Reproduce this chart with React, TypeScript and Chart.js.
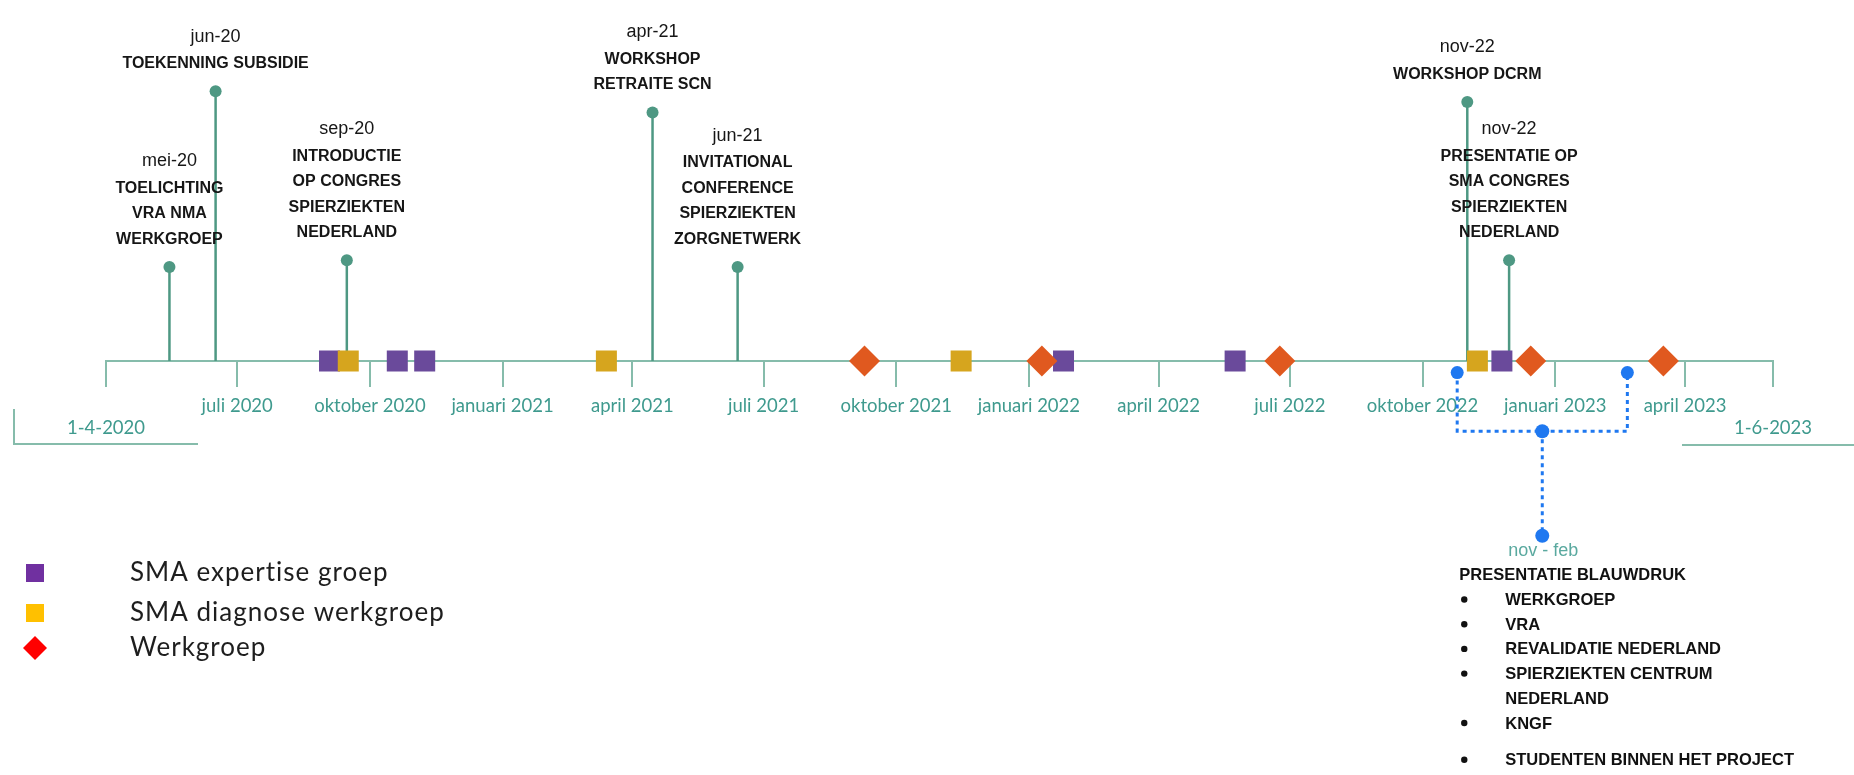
import React, { useEffect, useRef } from 'react';
import { Chart, registerables } from 'chart.js';

Chart.register(...registerables);

// ---------- data ----------
const startDate = '2020-04-01';
const endDate = '2023-06-01';

const tickDates = [
  '2020-04-01', '2020-07-01', '2020-10-01', '2021-01-01', '2021-04-01', '2021-07-01', '2021-10-01',
  '2022-01-01', '2022-04-01', '2022-07-01', '2022-10-01', '2023-01-01', '2023-04-01', '2023-06-01',
];
const tickLabels = [
  '1-4-2020', 'juli 2020', 'oktober 2020', 'januari 2021', 'april 2021', 'juli 2021', 'oktober 2021',
  'januari 2022', 'april 2022', 'juli 2022', 'oktober 2022', 'januari 2023', 'april 2023', '1-6-2023',
];

const eventDates = ['2020-05-15', '2020-06-16', '2020-09-15', '2021-04-15', '2021-06-13', '2022-11-01', '2022-11-30'];
const eventHeights = [98, 281, 105, 259, 98, 270, 105];
const eventDateLabels = ['mei-20', 'jun-20', 'sep-20', 'apr-21', 'jun-21', 'nov-22', 'nov-22'];
const eventTexts = [
  ['TOELICHTING', 'VRA NMA', 'WERKGROEP'],
  ['TOEKENNING SUBSIDIE'],
  ['INTRODUCTIE', 'OP CONGRES', 'SPIERZIEKTEN', 'NEDERLAND'],
  ['WORKSHOP', 'RETRAITE SCN'],
  ['INVITATIONAL', 'CONFERENCE', 'SPIERZIEKTEN', 'ZORGNETWERK'],
  ['WORKSHOP DCRM'],
  ['PRESENTATIE OP', 'SMA CONGRES', 'SPIERZIEKTEN', 'NEDERLAND'],
];

const expertiseDates = ['2020-09-03', '2020-10-20', '2020-11-08', '2022-01-25', '2022-05-24', '2022-11-25'];
const diagnoseDates = ['2020-09-16', '2021-03-14', '2021-11-15', '2022-11-08'];
const werkgroepDates = ['2021-09-09', '2022-01-10', '2022-06-24', '2022-12-15', '2023-03-17'];

const blueprintRange = ['2022-10-25', '2023-02-20'];
const blueprintLevels = [-12, -73, -182]; // end dots, bracket bar, bottom dot
const blueprintPeriod = 'nov - feb';
const blueprintTitle = 'PRESENTATIE BLAUWDRUK';
const blueprintItems = [
  ['WERKGROEP'],
  ['VRA'],
  ['REVALIDATIE NEDERLAND'],
  ['SPIERZIEKTEN CENTRUM', 'NEDERLAND'],
  ['KNGF'],
  ['STUDENTEN BINNEN HET PROJECT'],
];

const legendLabels = ['SMA expertise groep', 'SMA diagnose werkgroep', 'Werkgroep'];

// ---------- helpers ----------
const parseUTC = (s: string) => {
  const [y, m, d] = s.split('-').map(Number);
  return Date.UTC(y, m - 1, d);
};
const dayOf = (s: string) => (parseUTC(s) - parseUTC(startDate)) / 86400000;

const AXIS_COLOR = '#86bcab';
const STEM_COLOR = '#4e9883';
const TICK_TEXT = '#3f9a8e';
const PURPLE = '#6a4a9b';
const YELLOW = '#d6a51e';
const ORANGE = '#e0591f';
const BLUE = '#1f78f0';
const LEGEND_COLORS = ['#7030a0', '#ffc000', '#ff0000'];

const textPlugin = {
  id: 'timelineText',
  afterDatasetsDraw(chart: any) {
    const ctx: CanvasRenderingContext2D = chart.ctx;
    const xs = chart.scales.x;
    const ys = chart.scales.y;
    ctx.save();
    ctx.textAlign = 'center';
    ctx.textBaseline = 'middle';

    // event labels
    eventDates.forEach((d, i) => {
      const x = xs.getPixelForValue(dayOf(d));
      const top = ys.getPixelForValue(eventHeights[i]);
      const lines = eventTexts[i];
      ctx.fillStyle = '#161616';
      ctx.font = 'bold 16px "Liberation Sans", Arial, sans-serif';
      let y = top - 27.5;
      for (let k = lines.length - 1; k >= 0; k--) {
        ctx.fillText(lines[k], x, y);
        y -= 25.5;
      }
      ctx.font = '18px "Liberation Sans", Arial, sans-serif';
      ctx.fillText(eventDateLabels[i], x, y - 1.5);
    });

    // start / end brackets
    const axisY = ys.getPixelForValue(0);
    const x0 = xs.getPixelForValue(dayOf(startDate));
    const x1 = xs.getPixelForValue(dayOf(endDate));
    ctx.strokeStyle = AXIS_COLOR;
    ctx.lineWidth = 2;
    ctx.beginPath();
    ctx.moveTo(x0 - 92, axisY + 48);
    ctx.lineTo(x0 - 92, axisY + 83);
    ctx.lineTo(x0 + 92, axisY + 83);
    ctx.stroke();
    ctx.beginPath();
    ctx.moveTo(x1 - 91, axisY + 84);
    ctx.lineTo(chart.width, axisY + 84);
    ctx.stroke();

    // blueprint text block
    const [bs, be] = blueprintRange.map(dayOf);
    const bx = xs.getPixelForValue((bs + be) / 2);
    const by = ys.getPixelForValue(blueprintLevels[2]);
    ctx.fillStyle = '#5aa99f';
    ctx.font = '18px "Liberation Sans", Arial, sans-serif';
    ctx.fillText(blueprintPeriod, bx + 1, by + 15);
    ctx.textAlign = 'left';
    ctx.fillStyle = '#111';
    ctx.font = 'bold 16.5px "Liberation Sans", Arial, sans-serif';
    let ty = by + 40;
    ctx.fillText(blueprintTitle, bx - 83, ty);
    blueprintItems.forEach((item, i) => {
      ty += 24.7 + (i === blueprintItems.length - 1 ? 12 : 0);
      ctx.beginPath();
      ctx.arc(bx - 78, ty - 1, 3.2, 0, Math.PI * 2);
      ctx.fill();
      item.forEach((line, k) => {
        if (k > 0) ty += 24.7;
        ctx.fillText(line, bx - 37, ty);
      });
    });

    // legend
    const legendY = [573, 613, 648];
    ctx.font = '26px Lato, "Open Sans", sans-serif';
    (ctx as any).letterSpacing = '1px';
    legendLabels.forEach((lab, i) => {
      const y = legendY[i];
      ctx.fillStyle = LEGEND_COLORS[i];
      if (i < 2) {
        ctx.fillRect(35 - 9, y - 9, 18, 18);
      } else {
        ctx.beginPath();
        ctx.moveTo(35, y - 12);
        ctx.lineTo(47, y);
        ctx.lineTo(35, y + 12);
        ctx.lineTo(23, y);
        ctx.closePath();
        ctx.fill();
      }
      ctx.fillStyle = '#1e1e1e';
      ctx.textAlign = 'left';
      ctx.fillText(lab, 130, y);
    });
    (ctx as any).letterSpacing = '0px';
    ctx.restore();
  },
};

export default function App() {
  const ref = useRef<HTMLCanvasElement | null>(null);

  useEffect(() => {
    if (!ref.current) return;
    const tickDays = tickDates.map(dayOf);
    const stemData = eventDates.flatMap((d, i) => [
      { x: dayOf(d), y: 0 },
      { x: dayOf(d), y: eventHeights[i] },
      { x: dayOf(d), y: null },
    ]);
    const [bs, be] = blueprintRange.map(dayOf);
    const bm = (bs + be) / 2;
    const [dotLv, barLv, endLv] = blueprintLevels;
    const bracketData = [
      { x: bs, y: dotLv },
      { x: bs, y: barLv },
      { x: be, y: barLv },
      { x: be, y: dotLv },
      { x: be, y: null },
      { x: bm, y: barLv },
      { x: bm, y: endLv },
    ];
    const bracketRadius = [6.5, 0, 0, 6.5, 0, 7, 7];

    const chart = new Chart(ref.current, {
      type: 'scatter',
      data: {
        datasets: [
          {
            label: legendLabels[2],
            data: werkgroepDates.map((d) => ({ x: dayOf(d), y: 0 })),
            pointStyle: 'rectRot',
            pointRadius: 15.5,
            backgroundColor: ORANGE,
            borderWidth: 0,
          },
          {
            label: legendLabels[1],
            data: diagnoseDates.map((d) => ({ x: dayOf(d), y: 0 })),
            pointStyle: 'rect',
            pointRadius: 14.85,
            backgroundColor: YELLOW,
            borderWidth: 0,
          },
          {
            label: legendLabels[0],
            data: expertiseDates.map((d) => ({ x: dayOf(d), y: 0 })),
            pointStyle: 'rect',
            pointRadius: 14.85,
            backgroundColor: PURPLE,
            borderWidth: 0,
          },
          {
            label: 'events',
            data: stemData as any,
            showLine: true,
            spanGaps: false,
            borderColor: STEM_COLOR,
            borderWidth: 2.5,
            backgroundColor: STEM_COLOR,
            pointBorderWidth: 0,
            pointRadius: (c: any) => (c.raw && c.raw.y > 0 ? 6 : 0),
          },
          {
            label: 'blauwdruk',
            data: bracketData as any,
            showLine: true,
            spanGaps: false,
            borderColor: BLUE,
            borderWidth: 3,
            borderDash: [4, 4],
            backgroundColor: BLUE,
            pointBorderWidth: 0,
            pointRadius: (c: any) => bracketRadius[c.dataIndex],
          },
        ],
      },
      options: {
        animation: false,
        responsive: true,
        maintainAspectRatio: false,
        events: [],
        layout: { padding: { left: 106, right: 81, top: 0, bottom: 0 } },
        plugins: { legend: { display: false }, tooltip: { enabled: false } },
        scales: {
          x: {
            type: 'linear',
            min: 0,
            max: dayOf(endDate),
            position: { y: 0 } as any,
            afterBuildTicks: (s: any) => {
              s.ticks = tickDays.map((v) => ({ value: v }));
            },
            ticks: {
              autoSkip: false,
              maxRotation: 0,
              minRotation: 0,
              padding: 9,
              color: TICK_TEXT,
              font: { family: 'Lato, "Open Sans", sans-serif', size: 18.5, lineHeight: '22px' as any },
              callback: (_v: any, i: number) =>
                i === 0 || i === tickLabels.length - 1 ? ['', tickLabels[i]] : tickLabels[i],
            },
            grid: {
              drawOnChartArea: false,
              drawTicks: true,
              tickLength: 25,
              color: AXIS_COLOR,
              lineWidth: 2,
            },
            border: { display: true, color: AXIS_COLOR, width: 2 },
          },
          y: { type: 'linear', min: -415, max: 360, display: false },
        },
      },
      plugins: [textPlugin],
    });
    return () => chart.destroy();
  }, []);

  return (
    <div style={{ position: 'fixed', left: 0, top: 0, width: 1854, height: 775, background: '#fff' }}>
      <canvas ref={ref} />
    </div>
  );
}
